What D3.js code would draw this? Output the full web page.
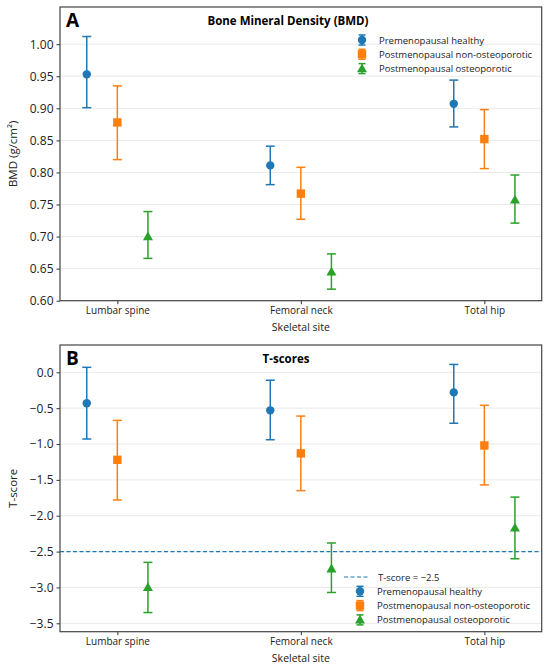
<!DOCTYPE html>
<html>
<head>
<meta charset="utf-8">
<script src="https://cdn.jsdelivr.net/npm/d3@7"></script>
<style>
  body { margin: 0; background: #fff; }
  svg text { font-family: "Open Sans", "DejaVu Sans", sans-serif; }
</style>
</head>
<body>
<svg id="chart" width="550" height="669"></svg>
<script>
// skeletal sites and groups
var sites = ['Lumbar spine', 'Femoral neck', 'Total hip'];
var groups = ['Premenopausal healthy', 'Postmenopausal non-osteoporotic', 'Postmenopausal osteoporotic'];
var colors = ['#1f77b4', '#ff7f0e', '#2ca02c'];
var shapes = ['circle', 'square', 'triangle'];

// BMD means and error limits (per group, per site)
var bmdMean = [[0.953, 0.811, 0.907], [0.878, 0.767, 0.852], [0.700, 0.645, 0.757]];
var bmdLow  = [[0.901, 0.781, 0.871], [0.820, 0.727, 0.806], [0.666, 0.618, 0.721]];
var bmdHigh = [[1.012, 0.841, 0.944], [0.935, 0.808, 0.898], [0.739, 0.673, 0.796]];

// T-scores means and error limits
var tMean = [[-0.43, -0.53, -0.28], [-1.22, -1.13, -1.02], [-3.00, -2.74, -2.17]];
var tLow  = [[-0.93, -0.94, -0.71], [-1.78, -1.65, -1.57], [-3.35, -3.07, -2.60]];
var tHigh = [[0.07, -0.11, 0.11], [-0.67, -0.61, -0.46], [-2.65, -2.38, -1.74]];

var bmdTicks = [0.60, 0.65, 0.70, 0.75, 0.80, 0.85, 0.90, 0.95, 1.00];
var tTicks = [-3.5, -3.0, -2.5, -2.0, -1.5, -1.0, -0.5, 0.0];
var threshold = -2.5;

var svg = d3.select('#chart');
var offsets = [-1 / 6, 0, 1 / 6];

function drawMarker(g, shape, cx, cy, color) {
  if (shape == 'circle') {
    g.append('circle').attr('cx', cx).attr('cy', cy).attr('r', 4.2).attr('fill', color);
  } else if (shape == 'square') {
    g.append('rect').attr('x', cx - 4.2).attr('y', cy - 4.2).attr('width', 8.4).attr('height', 8.4).attr('fill', color);
  } else {
    g.append('path')
      .attr('d', `M${cx},${cy - 5.2}L${cx + 5},${cy + 3.6}L${cx - 5},${cy + 3.6}Z`)
      .attr('fill', color);
  }
}

function drawPanel(opts) {
  var left = 60, right = 541.7;
  var top = opts.top, bottom = opts.bottom;

  var xScale = d3.scaleLinear().domain([-0.3125, 2.3125]).range([left, right]);
  var yScale = d3.scaleLinear().domain(opts.domain).range([bottom, top]);

  var g = svg.append('g');

  // grid
  g.selectAll('.grid')
    .data(opts.ticks)
    .enter()
    .append('line')
    .attr('x1', left).attr('x2', right)
    .attr('y1', d => yScale(d)).attr('y2', d => yScale(d))
    .style('stroke', '#e6e6e6')
    .style('stroke-width', 0.9);

  // axes
  var xAxis = d3.axisBottom(xScale)
    .tickValues([0, 1, 2])
    .tickFormat(i => sites[i])
    .tickSize(3.5)
    .tickPadding(3);
  var yAxis = d3.axisLeft(yScale)
    .tickValues(opts.ticks)
    .tickFormat(d3.format(opts.fmt))
    .tickSize(3.5)
    .tickPadding(3);

  var xg = g.append('g').attr('transform', `translate(0, ${bottom})`).call(xAxis);
  xg.select('.domain').remove();
  xg.selectAll('text').style('font-size', '10px').style('fill', '#222');
  xg.selectAll('line').style('stroke', '#333');

  var yg = g.append('g').attr('transform', `translate(${left}, 0)`).call(yAxis);
  yg.select('.domain').remove();
  yg.selectAll('text').style('font-size', '12px').style('fill', '#222');
  yg.selectAll('line').style('stroke', '#333');

  // threshold line
  if (opts.threshold != null) {
    g.append('line')
      .attr('x1', left).attr('x2', right)
      .attr('y1', yScale(opts.threshold)).attr('y2', yScale(opts.threshold))
      .style('stroke', '#1f77b4')
      .style('stroke-width', 1.2)
      .style('stroke-dasharray', '4,2.5');
  }

  // error bars + markers
  for (var s = 0; s < groups.length; s++) {
    for (var i = 0; i < sites.length; i++) {
      var cx = xScale(i + offsets[s]);
      var color = colors[s];
      g.append('line')
        .attr('x1', cx).attr('x2', cx)
        .attr('y1', yScale(opts.low[s][i])).attr('y2', yScale(opts.high[s][i]))
        .style('stroke', color).style('stroke-width', 1.5);
      [opts.low[s][i], opts.high[s][i]].forEach(function(v) {
        g.append('line')
          .attr('x1', cx - 4.5).attr('x2', cx + 4.5)
          .attr('y1', yScale(v)).attr('y2', yScale(v))
          .style('stroke', color).style('stroke-width', 1.5);
      });
      drawMarker(g, shapes[s], cx, yScale(opts.mean[s][i]), color);
    }
  }

  // frame
  g.append('rect')
    .attr('x', left).attr('y', top)
    .attr('width', right - left).attr('height', bottom - top)
    .attr('fill', 'none')
    .style('stroke', '#444')
    .style('stroke-width', 1.2);

  // panel letter and title
  g.append('text')
    .attr('x', 66).attr('y', top + 20)
    .style('font-size', '19px').style('font-weight', 'bold')
    .text(opts.letter);
  g.append('text')
    .attr('x', opts.titleX).attr('y', top + 18)
    .attr('text-anchor', 'middle')
    .style('font-size', '11.5px').style('font-weight', 'bold')
    .text(opts.title);

  // axis labels
  g.append('text')
    .attr('x', (left + right) / 2).attr('y', bottom + 30)
    .attr('text-anchor', 'middle')
    .style('font-size', '10.5px').style('fill', '#222')
    .text('Skeletal site');
  g.append('text')
    .attr('transform', `translate(17, ${(top + bottom) / 2}) rotate(-90)`)
    .attr('text-anchor', 'middle')
    .style('font-size', '11.5px').style('fill', '#222')
    .text(opts.ylabel);

  // legend
  var ly = opts.legendY;
  var lx = opts.legendX;
  if (opts.threshold != null) {
    g.append('line')
      .attr('x1', lx - 16).attr('x2', lx + 9)
      .attr('y1', ly).attr('y2', ly)
      .style('stroke', '#1f77b4').style('stroke-width', 1.2)
      .style('stroke-dasharray', '4,2.5');
    g.append('text')
      .attr('x', lx + 18).attr('y', ly + 3.5)
      .style('font-size', '9.5px').style('fill', '#222')
      .text('T-score = \u22122.5');
    ly += 14.3;
  }
  groups.forEach(function(name, s) {
    var yy = ly + s * 14.3;
    g.append('line')
      .attr('x1', lx).attr('x2', lx)
      .attr('y1', yy - 5).attr('y2', yy + 5)
      .style('stroke', colors[s]).style('stroke-width', 1.5);
    [yy - 5, yy + 5].forEach(function(v) {
      g.append('line')
        .attr('x1', lx - 3.5).attr('x2', lx + 3.5)
        .attr('y1', v).attr('y2', v)
        .style('stroke', colors[s]).style('stroke-width', 1.5);
    });
    drawMarker(g, shapes[s], lx, yy, colors[s]);
    g.append('text')
      .attr('x', lx + 17).attr('y', yy + 3.5)
      .style('font-size', '9.5px').style('fill', '#222')
      .text(name);
  });
}

drawPanel({
  top: 7, bottom: 300.7,
  domain: [0.6, 1.058],
  ticks: bmdTicks, fmt: '.2f',
  mean: bmdMean, low: bmdLow, high: bmdHigh,
  letter: 'A', title: 'Bone Mineral Density (BMD)', titleX: 288,
  ylabel: 'BMD (g/cm\u00b2)',
  legendX: 362, legendY: 40
});

drawPanel({
  top: 345, bottom: 631.7,
  domain: [-3.617, 0.381],
  ticks: tTicks, fmt: '.1f',
  mean: tMean, low: tLow, high: tHigh,
  threshold: threshold,
  letter: 'B', title: 'T-scores', titleX: 286,
  ylabel: 'T-score',
  legendX: 360, legendY: 577
});
</script>
</body>
</html>
